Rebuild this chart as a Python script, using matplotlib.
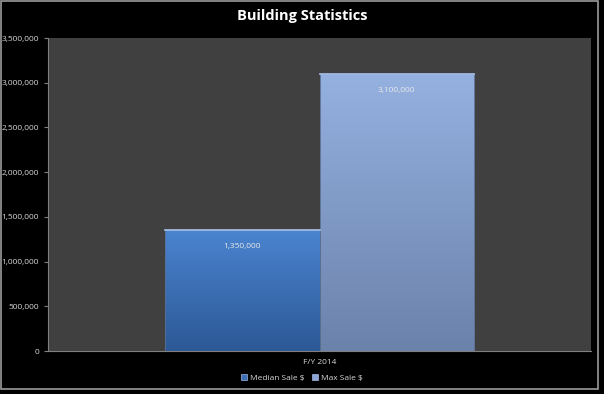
import numpy as np
import matplotlib.pyplot as plt
from matplotlib.patches import Rectangle
from matplotlib.ticker import FuncFormatter

category = "F/Y 2014"
series = ["Median Sale $", "Max Sale $"]
values = [1350000, 3100000]
top_colors = ["#4a84cf", "#95b1e0"]
bottom_colors = ["#2c5896", "#6b82ab"]
legend_colors = ["#3a6fb5", "#8ba6d6"]

plt.rcParams['font.family'] = ['Open Sans', 'DejaVu Sans']

fig = plt.figure(figsize=(6.04, 3.94), dpi=100, facecolor="black")
# outer frame like the excel chart border
fig.patches.append(Rectangle((0.002, 0.012), 0.988, 0.985, transform=fig.transFigure,
                             fill=False, edgecolor="#9a9a9a", lw=1.2))
ax = fig.add_axes([48 / 604, 1 - 351 / 394, 543 / 604, 313 / 394])
ax.set_facecolor("#404040")

w = 0.285
xs = [-w / 2, w / 2]
bars = ax.bar(xs, values, width=w, color=legend_colors, zorder=2)
for b, c1, c2 in zip(bars, top_colors, bottom_colors):
    b.set_facecolor("none")
    b.set_edgecolor("#5a6f90")
    b.set_linewidth(0.6)
    x0, y0 = b.get_x(), b.get_y()
    h = b.get_height()
    grad = np.linspace(0, 1, 100)[:, None]
    rgb1 = np.array(plt.matplotlib.colors.to_rgb(c1))
    rgb2 = np.array(plt.matplotlib.colors.to_rgb(c2))
    img = rgb1 * (1 - grad[..., None]) + rgb2 * grad[..., None]
    im = ax.imshow(img, extent=[x0, x0 + b.get_width(), y0, y0 + h], aspect="auto",
                   zorder=1.5, origin="upper")
    im.set_clip_path(b)
    # light highlight at top edge
    ax.plot([x0, x0 + b.get_width()], [h, h], color="#a9c4ee", lw=1.2, zorder=3)

for x, v in zip(xs, values):
    ax.annotate(f"{v:,}", (x, v), xytext=(0, -12), textcoords="offset points",
                ha="center", va="center", color="#e8e8e8", fontsize=6)

ax.set_xlim(-0.5, 0.5)
ax.set_ylim(0, 3500000)
ax.set_yticks(np.arange(0, 3500001, 500000))
ax.yaxis.set_major_formatter(FuncFormatter(lambda v, p: f"{int(v):,}"))
ax.set_xticks([0])
ax.set_xticklabels([category])
ax.tick_params(axis="y", colors="#808080", labelcolor="#d8d8d8", labelsize=6, length=3, width=0.8)
ax.tick_params(axis="x", colors="#808080", labelcolor="#d8d8d8", labelsize=6, length=0, pad=6)
for s in ["top", "right"]:
    ax.spines[s].set_visible(False)
for s in ["left", "bottom"]:
    ax.spines[s].set_color("#808080")
    ax.spines[s].set_linewidth(0.8)

fig.text(0.5, 1 - 16 / 394, "Building Statistics", ha="center", va="center",
         color="white", fontsize=10.5, fontweight="bold")

handles = [Rectangle((0, 0), 1, 1, facecolor=c, edgecolor="#a0b8e0", lw=0.5) for c in legend_colors]
fig.legend(handles, series, loc="center", bbox_to_anchor=(0.5, 1 - 378 / 394), ncol=2,
           frameon=False, fontsize=6, labelcolor="#d8d8d8", handlelength=0.7, handleheight=0.7,
           handletextpad=0.4, columnspacing=0.8)

fig.savefig("out.png", dpi=100, facecolor="black")
